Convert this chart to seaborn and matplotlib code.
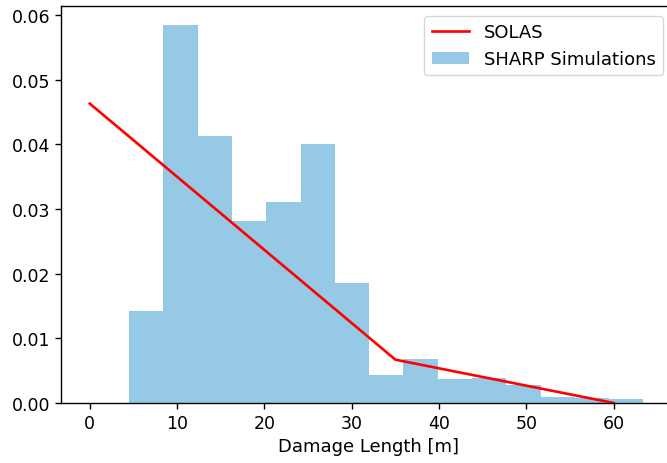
import numpy as np
import matplotlib
matplotlib.use("Agg")
import matplotlib.pyplot as plt
import seaborn as sns

# SHARP simulations histogram (density)
bin_edges = [4.5, 8.43, 12.35, 16.28, 20.2, 24.13, 28.06, 31.99,
             35.91, 39.84, 43.77, 47.69, 51.62, 55.54, 59.47, 63.4]
densities = [0.0142, 0.0585, 0.0413, 0.0282, 0.0311, 0.0400, 0.0186,
             0.0044, 0.0068, 0.0037, 0.0038, 0.0028, 0.0009, 0.0007, 0.0006]

# SOLAS distribution
solas_x = [0, 35, 60]
solas_y = [0.0463, 0.0067, 0.0]

bin_centers = [(a + b) / 2 for a, b in zip(bin_edges[:-1], bin_edges[1:])]

fig = plt.figure(figsize=(6.67, 4.64), dpi=100)
ax = fig.add_axes([61 / 667, 60 / 464, 616 / 667, 397 / 464])

sns.lineplot(x=solas_x, y=solas_y, color="red", linewidth=1.9,
             label="SOLAS", ax=ax, zorder=3)
sns.histplot(x=bin_centers, weights=densities, bins=bin_edges,
             color="#95c9e5", alpha=1, linewidth=0,
             label="SHARP Simulations", ax=ax)

ax.set_xlabel("Damage Length [m]", fontsize=13)
ax.set_ylabel("")
ax.set_xticks([0, 10, 20, 30, 40, 50, 60])
ax.set_yticks([0.0, 0.01, 0.02, 0.03, 0.04, 0.05, 0.06])
ax.set_yticklabels(["0.00", "0.01", "0.02", "0.03", "0.04", "0.05", "0.06"])
ax.tick_params(labelsize=12.5, length=4.2, width=1)
for s in ax.spines.values():
    s.set_linewidth(1)
ax.set_xlim(-3.3, 67.25)
ax.set_ylim(0, 0.0614)

ax.legend(loc="upper right", bbox_to_anchor=(663 / 667, 1 - 17 / 464),
          bbox_transform=fig.transFigure, borderaxespad=0, fontsize=13,
          handlelength=2.1)

fig.savefig("out.png", dpi=100)
